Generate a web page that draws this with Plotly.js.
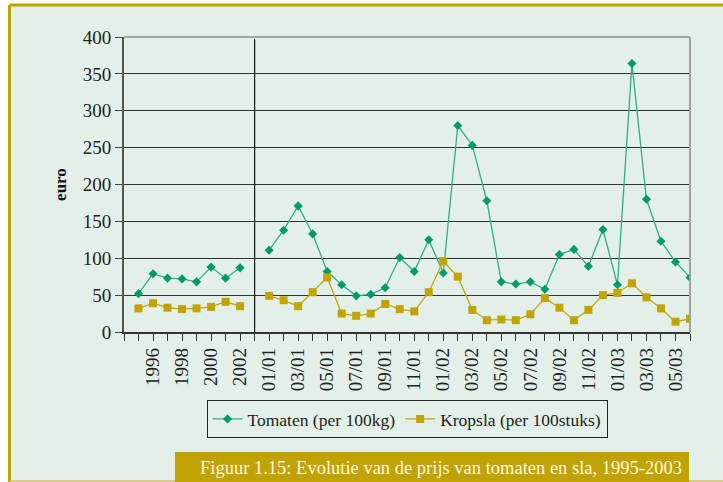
<!DOCTYPE html>
<html>
<head>
<meta charset="utf-8">
<script src="https://cdn.plot.ly/plotly-3.0.1.min.js"></script>
<style>html,body{margin:0;padding:0;background:#fff;}#chart{width:723px;height:482px;}</style>
</head>
<body>
<div id="chart"></div>
<script>
// ---- data ----
const jaren = ['1995','1996','1997','1998','1999','2000','2001','2002'];
const maanden = ['01/01','02/01','03/01','04/01','05/01','06/01','07/01','08/01','09/01','10/01','11/01','12/01',
                 '01/02','02/02','03/02','04/02','05/02','06/02','07/02','08/02','09/02','10/02','11/02','12/02',
                 '01/03','02/03','03/03','04/03','05/03','06/03'];
const tomatenJaar = [52, 79, 73, 72, 68, 88, 73, 87];
const kropslaJaar = [32, 39, 33, 31, 32, 34, 41, 35];
const tomatenMaand = [111, 138, 171, 133, 82, 64, 49, 51, 60, 101, 82, 125,
                      80, 280, 253, 178, 68, 65, 68, 58, 105, 112, 89, 139,
                      64, 364, 180, 123, 95, 74];
const kropslaMaand = [49, 43, 35, 54, 74, 25, 22, 25, 38, 31, 28, 54,
                      96, 75, 30, 16, 17, 16, 24, 46, 33, 16, 30, 50,
                      53, 66, 47, 32, 14, 18];
const getoondeLabels = ['1996','1998','2000','2002','01/01','03/01','05/01','07/01','09/01','11/01',
                        '01/02','03/02','05/02','07/02','09/02','11/02','01/03','03/03','05/03'];

// ---- build categories with a gap between annual and monthly data ----
const categorieen = [...jaren, '', ...maanden];
const xPos = categorieen.map((c, i) => i + 1);
const tomatenY = [...tomatenJaar, null, ...tomatenMaand];
const kropslaY = [...kropslaJaar, null, ...kropslaMaand];
const tickvals = [0, ...xPos];
const ticktext = ['', ...categorieen.map(c => getoondeLabels.includes(c) ? c : '')];
const gapX = jaren.length + 1;

// ---- pixel helpers for decorations ----
const L = 124, R = 690, T = 37, B = 332;
const px = x => (x - L) / (R - L);
const py = y => (B - y) / (B - T);

const font = '"Liberation Serif", "DejaVu Serif", serif';
const bg = '#E2F0E9';
const gold = '#C0A300';

const traces = [
  {x: xPos, y: tomatenY, name: 'Tomaten (per 100kg)', type: 'scatter', mode: 'lines+markers',
   connectgaps: false,
   line: {color: '#2FAE86', width: 1.3},
   marker: {symbol: 'diamond', size: 7, color: '#009A66'}},
  {x: xPos, y: kropslaY, name: 'Kropsla (per 100stuks)', type: 'scatter', mode: 'lines+markers',
   connectgaps: false,
   line: {color: '#C2A614', width: 1.3},
   marker: {symbol: 'square', size: 8, color: '#C2A400'}}
];

const layout = {
  width: 723, height: 482,
  margin: {l: L, r: 723 - R, t: T, b: 482 - B},
  paper_bgcolor: '#FFFFFF',
  plot_bgcolor: 'rgba(0,0,0,0)',
  font: {family: font, color: '#222', size: 19},
  showlegend: true,
  legend: {orientation: 'h', x: 0.5, xanchor: 'center', y: py(400), yanchor: 'top',
           bgcolor: 'rgba(0,0,0,0)', bordercolor: '#222', borderwidth: 1,
           font: {family: font, size: 17.5, color: '#222'}, tracegroupgap: 0, itemwidth: 30},
  xaxis: {
    type: 'linear', range: [0, categorieen.length], fixedrange: true,
    tickmode: 'array', tickvals: tickvals, ticktext: ticktext, tickangle: -90,
    ticks: 'outside', ticklen: 7, tickcolor: '#333', tickwidth: 1,
    showgrid: false, zeroline: false,
    showline: true, linecolor: '#333', linewidth: 1.5,
    tickfont: {family: font, size: 19, color: '#222'}
  },
  yaxis: {
    range: [0, 400], dtick: 50, tick0: 0,
    ticks: 'outside', ticklen: 7, tickcolor: '#444', tickwidth: 1,
    showgrid: true, gridcolor: '#333', gridwidth: 1,
    zeroline: false, showline: true, linecolor: '#555', linewidth: 2,
    tickfont: {family: font, size: 19, color: '#222'},
    title: {text: '<b>euro</b>', font: {family: font, size: 17, color: '#111'}, standoff: 12}
  },
  shapes: [
    {type: 'rect', xref: 'paper', yref: 'paper', x0: px(9.5), x1: px(760), y0: py(481), y1: py(5),
     fillcolor: bg, line: {width: 0}, layer: 'below'},
    {type: 'line', xref: 'paper', yref: 'paper', x0: px(9.5), x1: px(760), y0: py(5), y1: py(5),
     line: {color: gold, width: 3}, layer: 'below'},
    {type: 'line', xref: 'paper', yref: 'paper', x0: px(9.5), x1: px(9.5), y0: py(482), y1: py(5),
     line: {color: gold, width: 3}, layer: 'below'},
    {type: 'line', xref: 'paper', yref: 'paper', x0: px(9.5), x1: px(760), y0: py(481), y1: py(481),
     line: {color: '#CFC265', width: 1.5}, layer: 'below'},
    {type: 'line', xref: 'paper', yref: 'paper', x0: 0, x1: 1, y0: 1, y1: 1,
     line: {color: '#8C8C8C', width: 1.5}, layer: 'above'},
    {type: 'line', xref: 'paper', yref: 'paper', x0: 1, x1: 1, y0: 0, y1: 1,
     line: {color: '#A0A0A0', width: 2}, layer: 'above'},
    {type: 'line', xref: 'x', yref: 'y', x0: gapX, x1: gapX, y0: 0, y1: 397,
     line: {color: '#111', width: 1.2}, layer: 'above'},
    {type: 'rect', xref: 'paper', yref: 'paper', x0: px(175), x1: px(689), y0: py(490), y1: py(452),
     fillcolor: gold, line: {width: 0}, layer: 'above'}
  ],
  annotations: [
    {xref: 'paper', yref: 'paper', x: px(684), y: py(467.5), xanchor: 'right', yanchor: 'middle',
     text: 'Figuur 1.15: Evolutie van de prijs van tomaten en sla, 1995-2003', showarrow: false,
     font: {family: font, size: 18.5, color: '#FFF6DA'}}
  ]
};

Plotly.newPlot('chart', traces, layout, {staticPlot: true, displayModeBar: false});
</script>
</body>
</html>
